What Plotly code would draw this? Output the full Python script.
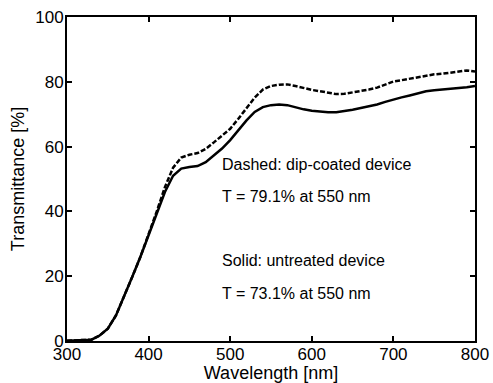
import plotly.graph_objects as go

wavelength = [300, 310, 320, 330, 340, 350, 360, 370, 380, 390, 400, 410, 420, 430, 440, 450,
              460, 470, 480, 490, 500, 510, 520, 530, 540, 550, 560, 570, 580, 590, 600,
              610, 620, 630, 640, 650, 660, 670, 680, 690, 700, 710, 720, 730, 740, 750,
              760, 770, 780, 790, 800]

solid_untreated = [0.1, 0.2, 0.3, 0.4, 1.7, 3.8, 7.9, 13.6, 19.8, 26.0, 32.6, 39.3, 46.0, 51.0,
                   53.2, 53.7, 54.0, 55.2, 57.3, 59.4, 62.0, 65.0, 68.1, 70.7, 72.2, 72.8,
                   73.0, 72.8, 72.1, 71.5, 71.1, 70.8, 70.6, 70.6, 70.9, 71.4, 71.9, 72.4,
                   73.0, 73.8, 74.6, 75.2, 75.8, 76.5, 77.1, 77.4, 77.6, 77.9, 78.1, 78.3, 78.7]

dashed_dipcoated = [0.1, 0.2, 0.3, 0.4, 1.7, 3.8, 7.9, 13.6, 19.8, 26.0, 32.8, 40.0, 47.5, 53.5,
                    56.6, 57.5, 58.0, 59.3, 61.3, 63.4, 65.5, 68.6, 71.7, 75.1, 77.6, 78.7,
                    79.1, 79.2, 78.7, 78.0, 77.5, 77.1, 76.6, 76.2, 76.3, 76.7, 77.2, 77.6,
                    78.2, 79.2, 80.1, 80.5, 81.0, 81.5, 82.0, 82.3, 82.5, 82.8, 83.0, 83.5, 83.2]

x_ticks = [300, 400, 500, 600, 700, 800]
y_ticks = [0, 20, 40, 60, 80, 100]

notes = ["Dashed: dip-coated device", "T = 79.1% at 550 nm",
         "Solid: untreated device", "T = 73.1% at 550 nm"]
note_y = [54.6, 44.7, 24.9, 14.6]

FONT = "Arial, Liberation Sans, Helvetica, sans-serif"

fig = go.Figure()
fig.add_trace(go.Scatter(x=wavelength, y=dashed_dipcoated, mode="lines",
                         line=dict(color="black", width=2.5, dash="5px,2px"),
                         showlegend=False))
fig.add_trace(go.Scatter(x=wavelength, y=solid_untreated, mode="lines",
                         line=dict(color="black", width=2.5),
                         showlegend=False))

for txt, yy in zip(notes, note_y):
    fig.add_annotation(x=488, y=yy, text=txt, showarrow=False, xanchor="left",
                       yanchor="middle", font=dict(family=FONT, size=16, color="black"))

axis_common = dict(showgrid=False, zeroline=False, showline=True, linecolor="black",
                   linewidth=2, mirror="ticks", ticks="inside", ticklen=5, tickwidth=2,
                   tickcolor="black", automargin=False,
                   tickfont=dict(family=FONT, size=17, color="black"))

fig.update_xaxes(range=[300, 800], tickvals=x_ticks, ticklabelstandoff=-3,
                 title=dict(text="Wavelength [nm]", font=dict(family=FONT, size=18, color="black"),
                            standoff=0),
                 **axis_common)
fig.update_yaxes(range=[0, 100], tickvals=y_ticks, ticklabelstandoff=-2,
                 title=dict(text="Transmittance [%]", font=dict(family=FONT, size=18, color="black"),
                            standoff=6),
                 **axis_common)

fig.update_layout(width=493, height=383, margin=dict(l=67, r=18, t=17, b=42),
                  plot_bgcolor="white", paper_bgcolor="white",
                  font=dict(family=FONT, color="black"))

fig.write_html("out.html", config={"displayModeBar": False},
               post_script="document.body.style.margin='0';document.body.style.overflow='hidden';")
